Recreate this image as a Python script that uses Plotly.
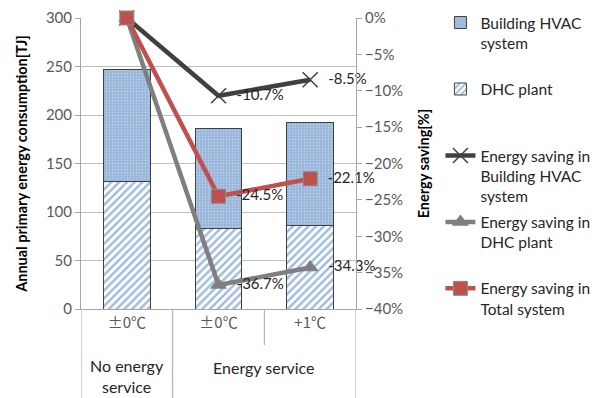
import plotly.graph_objects as go

# Scenario labels (inner row) and grouping (outer row)
cases = ["±0℃", "±0℃", "+1℃"]
groups = ["No energy<br>service", "Energy service"]

# Annual primary energy consumption [TJ]
dhc_plant = [131.0, 82.9, 86.1]
building_hvac = [115.5, 103.1, 105.7]

# Energy saving relative to the no-service case [%]
saving_hvac = [0.0, -10.7, -8.5]
saving_dhc = [0.0, -36.7, -34.3]
saving_total = [0.0, -24.5, -22.1]

FONT = "Lato, 'Open Sans', sans-serif"
CJK = "'Noto Sans CJK JP', Lato, sans-serif"
xpos = list(range(len(cases)))


def pct_labels(vals):
    return ["" if v == 0 else f"  {v:.1f}%" for v in vals]


fig = go.Figure()

fig.add_trace(go.Bar(
    x=xpos, y=dhc_plant, name="DHC plant<br> <br> ", legendrank=2,
    legendgroup="dhc", width=0.51,
    marker=dict(color="white", line=dict(color="#404040", width=1),
                pattern=dict(shape="/", fgcolor="#3f77bb", bgcolor="white",
                             size=5.5, solidity=0.45)),
))
fig.add_trace(go.Bar(
    x=xpos, y=building_hvac, name="Building HVAC<br>system<br> ", legendrank=1,
    legendgroup="hvac", width=0.51,
    marker=dict(color="#9cb9de", line=dict(color="#404040", width=1),
                pattern=dict(shape=".", fgcolor="#dce7f4", bgcolor="#97b4db",
                             size=3, solidity=0.3)),
))

line_specs = [
    (saving_hvac, "Energy saving in<br>Building HVAC<br>system", "#404040",
     dict(symbol="x-thin", size=15, line=dict(color="#404040", width=1.5)), 3),
    (saving_dhc, "Energy saving in<br>DHC plant<br> ", "#7f7f7f",
     dict(symbol="triangle-up", size=15, color="#7f7f7f"), 4),
    (saving_total, "Energy saving in<br>Total system", "#c0504d",
     dict(symbol="square", size=14, color="#c0504d",
          line=dict(color="#8c8c8c", width=1)), 5),
]
for vals, name, color, marker, rank in line_specs:
    fig.add_trace(go.Scatter(
        x=xpos, y=vals, name=name, yaxis="y2", legendrank=rank,
        legendgroup=f"saving{rank}",
        mode="lines+markers+text",
        line=dict(color=color, width=4.5),
        marker=marker,
        text=pct_labels(vals), textposition="middle right",
        textfont=dict(family=FONT, size=15, color="#262626"),
        cliponaxis=False,
    ))

# Category dividers below the axis
div_color = "#a6a6a6"
for xb, ybot in [(-0.5, -0.31), (0.5, -0.31), (1.5, -0.124), (2.5, -0.31)]:
    fig.add_shape(type="line", xref="x", yref="paper", x0=xb, x1=xb,
                  y0=0, y1=ybot, line=dict(color=div_color, width=1))

# Outer-row group labels
fig.add_annotation(x=0, y=-0.23, xref="x", yref="paper", text=groups[0],
                   showarrow=False, yanchor="middle",
                   font=dict(family=FONT, size=16, color="#262626"))
fig.add_annotation(x=1.5, y=-0.2, xref="x", yref="paper", text=groups[1],
                   showarrow=False, yanchor="middle",
                   font=dict(family=FONT, size=16, color="#262626"))

fig.update_layout(
    width=602, height=398,
    margin=dict(l=81, r=246, t=18, b=89, autoexpand=False),
    paper_bgcolor="white", plot_bgcolor="white",
    barmode="stack",
    font=dict(family=FONT, size=14, color="#404040"),
    xaxis=dict(
        range=[-0.5, 2.5], tickvals=xpos, ticktext=cases,
        ticks="", showgrid=False, zeroline=False,
        showline=True, linecolor="#a6a6a6", linewidth=1,
        tickfont=dict(family=CJK, size=15, color="#595959"),
    ),
    yaxis=dict(
        range=[0, 300], dtick=50,
        showgrid=True, gridcolor="#bfbfbf", gridwidth=1,
        zeroline=False, showline=True, linecolor="#a6a6a6",
        ticks="outside", ticklen=5, tickcolor="#a6a6a6",
        tickfont=dict(family=FONT, size=15, color="#595959"),
        title=dict(text="<b>Annual primary energy consumption[TJ]</b>",
                   font=dict(family=FONT, size=14.5, color="#000000"),
                   standoff=14),
    ),
    yaxis2=dict(
        overlaying="y", side="right", range=[-40, 0], dtick=5,
        tickformat=".0f", ticksuffix="%",
        showgrid=False, zeroline=False,
        showline=True, linecolor="#a6a6a6",
        ticks="outside", ticklen=5, tickcolor="#a6a6a6",
        tickfont=dict(family=FONT, size=15, color="#595959"),
        title=dict(text="<b>Energy saving[%]</b>",
                   font=dict(family=FONT, size=14.5, color="#000000"),
                   standoff=16),
    ),
    legend=dict(
        xref="paper", yref="container",
        x=1.307, y=0.985, xanchor="left", yanchor="top",
        maxheight=1,
        traceorder="grouped", valign="top",
        font=dict(family=FONT, size=15.5, color="#262626"),
        bgcolor="rgba(0,0,0,0)", tracegroupgap=3,
    ),
)

fig.write_html("out.html")
